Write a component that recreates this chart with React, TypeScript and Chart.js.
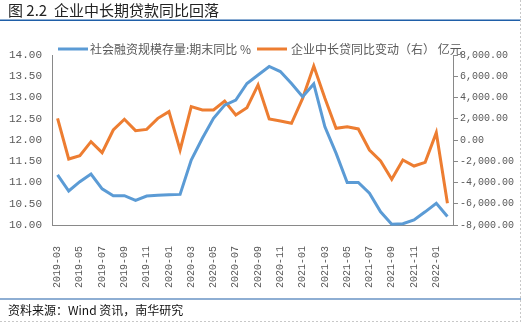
import React, { useEffect, useRef } from "react";
import { Chart, registerables } from "chart.js";

Chart.register(...registerables);

const categories = [
  "2019-03","2019-04","2019-05","2019-06","2019-07","2019-08","2019-09","2019-10","2019-11","2019-12",
  "2020-01","2020-02","2020-03","2020-04","2020-05","2020-06","2020-07","2020-08","2020-09","2020-10","2020-11","2020-12",
  "2021-01","2021-02","2021-03","2021-04","2021-05","2021-06","2021-07","2021-08","2021-09","2021-10","2021-11","2021-12",
  "2022-01","2022-02",
];

const tsfGrowth = [
  11.18, 10.8, 11.02, 11.2, 10.85, 10.69, 10.69, 10.58, 10.68, 10.7,
  10.71, 10.72, 11.53, 12.04, 12.51, 12.82, 12.94, 13.33, 13.53, 13.73, 13.61, 13.33,
  13.02, 13.32, 12.31, 11.69, 11.0, 11.0, 10.75, 10.31, 10.02, 10.03, 10.12, 10.31,
  10.51, 10.2,
];

const loanChange = [
  2040, -1790, -1470, -155, -1190, 940, 1950, 880, 1000, 2040,
  2670, -940, 3140, 2820, 2820, 3670, 2350, 3040, 5180, 1980, 1790, 1570,
  3920, 6960, 3920, 1100, 1250, 1040, -940, -1980, -3700, -1880, -2450, -2100,
  690, -5960,
];

const titleText = "图 2.2  企业中长期贷款同比回落";
const footerText = "资料来源：Wind 资讯，南华研究";
const seriesNames = ["社会融资规模存量:期末同比 %", "企业中长贷同比变动（右） 亿元"];

const BLUE = "#5b9bd5";
const ORANGE = "#ed7d31";
const TICK = "#595959";
const AXIS = "#898989";
const CJK = '"Noto Sans CJK SC", "Noto Sans", sans-serif';
const MONO = '"Liberation Mono", "DejaVu Sans Mono", monospace';

const decorPlugin = {
  id: "decor",
  afterDraw(chart: any) {
    const ctx = chart.ctx as CanvasRenderingContext2D;
    ctx.save();
    // title
    ctx.fillStyle = "#222";
    ctx.font = `15px ${CJK}`;
    ctx.textBaseline = "middle";
    ctx.textAlign = "left";
    ctx.fillText(titleText, 8, 10);
    ctx.fillStyle = "#1f5fa8";
    ctx.fillRect(0, 19.5, 521, 1.5);
    // legend
    ctx.lineWidth = 3;
    ctx.strokeStyle = BLUE;
    ctx.beginPath();
    ctx.moveTo(58, 49);
    ctx.lineTo(88, 49);
    ctx.stroke();
    ctx.strokeStyle = ORANGE;
    ctx.beginPath();
    ctx.moveTo(257, 49);
    ctx.lineTo(287, 49);
    ctx.stroke();
    ctx.font = `12px ${CJK}`;
    ctx.fillStyle = TICK;
    ctx.fillText(seriesNames[0], 90, 49);
    ctx.fillText(seriesNames[1], 291, 49);
    // footer
    ctx.fillStyle = "#1f5fa8";
    ctx.fillRect(0, 298.5, 521, 1);
    ctx.fillStyle = "#111";
    ctx.font = `12px ${CJK}`;
    ctx.fillText(footerText, 8, 310);
    // outer dashed borders
    ctx.strokeStyle = "#c8c8c8";
    ctx.lineWidth = 1;
    ctx.setLineDash([2, 2]);
    ctx.beginPath();
    ctx.moveTo(520.5, 0);
    ctx.lineTo(520.5, 322);
    ctx.moveTo(0, 321.5);
    ctx.lineTo(521, 321.5);
    ctx.stroke();
    ctx.restore();
  },
};

export default function App() {
  const ref = useRef<HTMLCanvasElement | null>(null);
  useEffect(() => {
    if (!ref.current) return;
    const chart = new Chart(ref.current, {
      type: "line",
      data: {
        labels: categories,
        datasets: [
          {
            label: seriesNames[0],
            data: tsfGrowth,
            borderColor: BLUE,
            backgroundColor: BLUE,
            borderWidth: 3,
            pointRadius: 0,
            tension: 0,
            yAxisID: "y",
            clip: false as any,
          },
          {
            label: seriesNames[1],
            data: loanChange,
            borderColor: ORANGE,
            backgroundColor: ORANGE,
            borderWidth: 3,
            pointRadius: 0,
            tension: 0,
            yAxisID: "y1",
          },
        ],
      },
      options: {
        animation: false,
        responsive: false,
        devicePixelRatio: 1,
        layout: { padding: { top: 55, left: 0, right: 0, bottom: 0 } },
        plugins: {
          legend: { display: false },
          tooltip: { enabled: false },
          title: { display: false },
        },
        scales: {
          x: {
            offset: true,
            grid: { display: false },
            border: { display: true, color: AXIS, width: 1 },
            ticks: {
              autoSkip: false,
              maxRotation: 90,
              minRotation: 90,
              padding: 13,
              color: TICK,
              font: { family: MONO, size: 10 },
              callback: function (this: any, val: any, index: number) {
                return index % 2 === 0 ? this.getLabelForValue(val) : "";
              },
            },
            afterFit: (s: any) => {
              s.height = 97;
            },
          },
          y: {
            position: "left",
            min: 10,
            max: 14,
            grid: { display: false, drawTicks: false },
            border: { display: true, color: AXIS, width: 1 },
            ticks: {
              stepSize: 0.5,
              padding: 10,
              color: TICK,
              font: { family: MONO, size: 11 },
              callback: (v: any) => Number(v).toFixed(2),
            },
            afterFit: (s: any) => {
              s.width = 52;
            },
          },
          y1: {
            position: "right",
            min: -8000,
            max: 8000,
            grid: { display: true, drawOnChartArea: false, drawTicks: true, tickLength: 5, color: AXIS },
            border: { display: true, color: AXIS, width: 1 },
            ticks: {
              stepSize: 2000,
              padding: 2,
              color: TICK,
              font: { family: MONO, size: 10 },
              callback: (v: any) =>
                Number(v).toLocaleString("en-US", { minimumFractionDigits: 2, maximumFractionDigits: 2 }),
            },
            afterFit: (s: any) => {
              s.width = 68;
            },
          },
        },
      },
      plugins: [decorPlugin],
    });
    return () => chart.destroy();
  }, []);
  return (
    <canvas
      ref={ref}
      width={521}
      height={322}
      style={{ position: "absolute", left: 0, top: 0, width: 521, height: 322, display: "block", background: "#fff" }}
    />
  );
}
